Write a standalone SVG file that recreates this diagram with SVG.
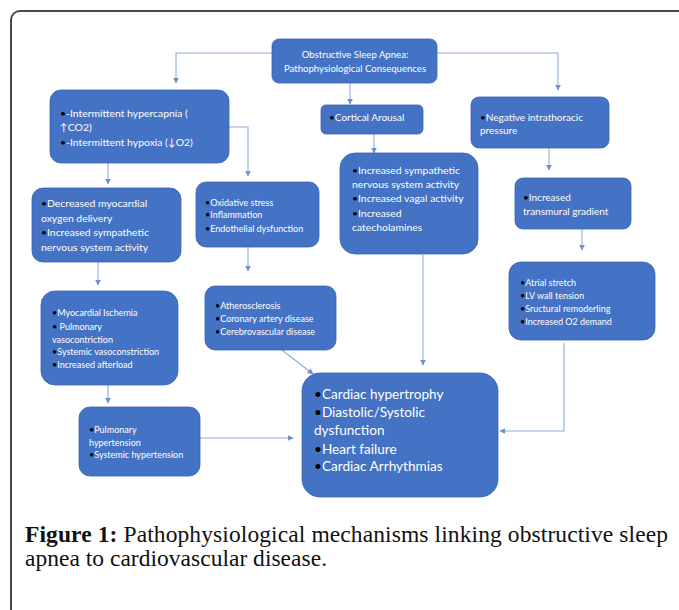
<svg xmlns="http://www.w3.org/2000/svg" width="679" height="610" viewBox="0 0 679 610">
<defs>
<marker id="ah" viewBox="0 0 10 10" refX="9" refY="5" markerWidth="6" markerHeight="6" markerUnits="userSpaceOnUse" orient="auto">
<path d="M0,0 L10,5 L0,10 z" fill="#6F8FD0"/>
</marker>
<style>
.frame{fill:#fff;stroke:#4a4a4a;stroke-width:2}
.node{fill:#4472C4;stroke:#3A63AE;stroke-width:0.8}
.t{font-family:Lato,"Liberation Sans",sans-serif;fill:#fff}
.b{fill:#000}
.c{fill:none;stroke:#8EA9DB;stroke-width:1.1;marker-end:url(#ah)}
.cap{font-family:"Liberation Serif",serif;font-size:23.5px;fill:#111}
</style>
</defs>
<rect class="frame" x="11" y="11" width="720" height="660" rx="9"/>
<g id="connectors">
<polyline class="c" points="272,53 176,53 176,83"/>
<polyline class="c" points="437,53 558,53 558,90"/>
<polyline class="c" points="350,83 350,104"/>
<polyline class="c" points="374,134 374,153"/>
<polyline class="c" points="229,127 248,127 248,176"/>
<polyline class="c" points="108,163 108,184"/>
<polyline class="c" points="98,262 98,285"/>
<polyline class="c" points="248,247 248,271"/>
<polyline class="c" points="108,385 108,403"/>
<polyline class="c" points="200,438 293,438"/>
<polyline class="c" points="282,350 313,374"/>
<polyline class="c" points="423,255 423,365"/>
<polyline class="c" points="549,148 549,170"/>
<polyline class="c" points="582,229 582,250"/>
<polyline class="c" points="564,343 564,431 500,431"/>
</g>
<g id="n-top">
<rect class="node" x="272" y="39" width="165" height="44" rx="7"/>
<text class="t" font-size="9.6" text-anchor="middle"><tspan x="355" y="57.5">Obstructive Sleep Apnea:</tspan><tspan x="355" y="71.5">Pathophysiological Consequences</tspan></text>
</g>
<g id="n-hyper">
<rect class="node" x="50" y="90" width="179" height="73" rx="11"/>
<text class="t" font-size="10.4"><tspan x="60" y="117"><tspan class="b">•</tspan>-Intermittent hypercapnia (</tspan><tspan x="60" y="131">↑CO2)</tspan><tspan x="60" y="146"><tspan class="b">•</tspan>-Intermittent hypoxia (↓O2)</tspan></text>
</g>
<g id="n-cortical">
<rect class="node" x="321" y="105" width="102" height="29" rx="5"/>
<text class="t" font-size="10"><tspan x="329" y="121"><tspan class="b">•</tspan>Cortical Arousal</tspan></text>
</g>
<g id="n-negative">
<rect class="node" x="471" y="97" width="138" height="51" rx="8"/>
<text class="t" font-size="10"><tspan x="480" y="121"><tspan class="b">•</tspan>Negative intrathoracic</tspan><tspan x="480" y="134">pressure</tspan></text>
</g>
<g id="n-decreased">
<rect class="node" x="32" y="188" width="149" height="74" rx="11"/>
<text class="t" font-size="10.4"><tspan x="41" y="207"><tspan class="b">•</tspan>Decreased myocardial</tspan><tspan x="41" y="222">oxygen delivery</tspan><tspan x="41" y="236"><tspan class="b">•</tspan>Increased sympathetic</tspan><tspan x="41" y="251">nervous system activity</tspan></text>
</g>
<g id="n-oxidative">
<rect class="node" x="196" y="182" width="123" height="65" rx="10"/>
<text class="t" font-size="9"><tspan x="205" y="205.5"><tspan class="b">•</tspan>Oxidative stress</tspan><tspan x="205" y="218"><tspan class="b">•</tspan>Inflammation</tspan><tspan x="205" y="231.5"><tspan class="b">•</tspan>Endothelial dysfunction</tspan></text>
</g>
<g id="n-sympathetic">
<rect class="node" x="340" y="153" width="138" height="101" rx="15"/>
<text class="t" font-size="10.4"><tspan x="352" y="174"><tspan class="b">•</tspan>Increased sympathetic</tspan><tspan x="352" y="188">nervous system activity</tspan><tspan x="352" y="202"><tspan class="b">•</tspan>Increased vagal activity</tspan><tspan x="352" y="217"><tspan class="b">•</tspan>Increased</tspan><tspan x="352" y="231">catecholamines</tspan></text>
</g>
<g id="n-transmural">
<rect class="node" x="515" y="178" width="116" height="51" rx="8"/>
<text class="t" font-size="10"><tspan x="523" y="201"><tspan class="b">•</tspan>Increased</tspan><tspan x="523" y="215">transmural gradient</tspan></text>
</g>
<g id="n-ischemia">
<rect class="node" x="41" y="291" width="137" height="94" rx="14"/>
<text class="t" font-size="9"><tspan x="52" y="315.5"><tspan class="b">•</tspan>Myocardial Ischemia</tspan><tspan x="52" y="329.5"><tspan class="b">•</tspan> Pulmonary</tspan><tspan x="52" y="342.5">vasocontriction</tspan><tspan x="52" y="354.5"><tspan class="b">•</tspan>Systemic vasoconstriction</tspan><tspan x="52" y="367.5"><tspan class="b">•</tspan>Increased afterload</tspan></text>
</g>
<g id="n-athero">
<rect class="node" x="205" y="286" width="131" height="64" rx="10"/>
<text class="t" font-size="9"><tspan x="215" y="308.5"><tspan class="b">•</tspan>Atherosclerosis</tspan><tspan x="215" y="321.5"><tspan class="b">•</tspan>Coronary artery disease</tspan><tspan x="215" y="334.5"><tspan class="b">•</tspan>Cerebrovascular disease</tspan></text>
</g>
<g id="n-atrial">
<rect class="node" x="509" y="262" width="146" height="78" rx="12"/>
<text class="t" font-size="9"><tspan x="520" y="285.5"><tspan class="b">•</tspan>Atrial stretch</tspan><tspan x="520" y="298.5"><tspan class="b">•</tspan>LV wall tension</tspan><tspan x="520" y="311.5"><tspan class="b">•</tspan>Sructural remoderling</tspan><tspan x="520" y="324.5"><tspan class="b">•</tspan>Increased O2 demand</tspan></text>
</g>
<g id="n-hypertension">
<rect class="node" x="79" y="407" width="121" height="69" rx="11"/>
<text class="t" font-size="9"><tspan x="89" y="432.5"><tspan class="b">•</tspan>Pulmonary</tspan><tspan x="89" y="445.5">hypertension</tspan><tspan x="89" y="457.5"><tspan class="b">•</tspan>Systemic hypertension</tspan></text>
</g>
<g id="n-cardiac">
<rect class="node" x="302" y="373" width="196" height="124" rx="18"/>
<text class="t" font-size="13.6"><tspan x="314" y="399"><tspan class="b">•</tspan>Cardiac hypertrophy</tspan><tspan x="314" y="417"><tspan class="b">•</tspan>Diastolic/Systolic</tspan><tspan x="314" y="435">dysfunction</tspan><tspan x="314" y="454"><tspan class="b">•</tspan>Heart failure</tspan><tspan x="314" y="471"><tspan class="b">•</tspan>Cardiac Arrhythmias</tspan></text>
</g>
<g id="caption">
<text class="cap" x="25" y="542" textLength="643" lengthAdjust="spacing"><tspan font-weight="bold">Figure 1:</tspan> Pathophysiological mechanisms linking obstructive sleep</text>
<text class="cap" x="25" y="566" textLength="302" lengthAdjust="spacing">apnea to cardiovascular disease.</text>
</g>
</svg>
